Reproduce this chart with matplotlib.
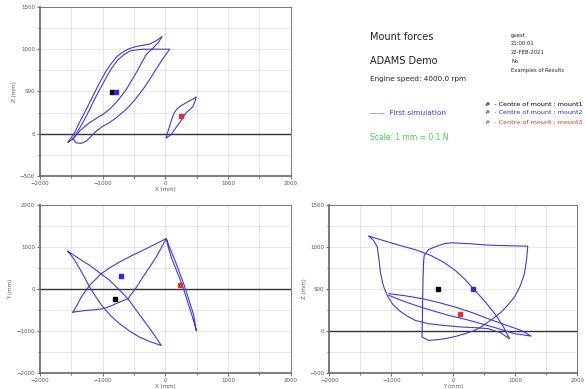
"""Mount forces plot (ADAMS demo style) - three force-trace panels plus a text panel."""
import matplotlib
matplotlib.use("Agg")
import matplotlib.pyplot as plt
from matplotlib.ticker import MultipleLocator

LINE = "#3c3cd2"
MARK = {"mount1": "black", "mount2": "#2a2ae0", "mount3": "#e03030"}

# top-left panel: X vs Z
xz_m1_x = [-1550, -1500, -1445, -1370, -1285, -1190, -1100, -1020, -940, -860, -780, -690, -595, -500, -410, -330, -250, -145, -50,
           -110, -200, -300, -380, -460, -540, -620, -700, -780, -880, -990, -1100, -1205, -1290, -1365, -1420, -1470, -1550]
xz_m1_y = [-100, -50, 10, 130, 250, 390, 525, 640, 745, 830, 905, 960, 1000, 1025, 1040, 1050, 1060, 1100, 1150,
           1080, 1010, 940, 835, 725, 625, 525, 445, 370, 295, 230, 180, 130, 80, 30, -20, -65, -100]
xz_m2_x = [-1470, -1420, -1340, -1260, -1180, -1100, -1000, -890, -760, -620, -490, -355, -250, -145, -40, 70,
           -40, -140, -250, -355, -460, -560, -660, -760, -850, -930, -1010, -1090, -1170, -1250, -1330, -1400, -1470]
xz_m2_y = [-60, -110, -115, -90, -30, 30, 85, 130, 200, 290, 395, 525, 640, 765, 885, 1000,
           1000, 1000, 1000, 1000, 992, 980, 935, 870, 780, 680, 570, 460, 340, 220, 110, 20, -60]
xz_m3_x = [15, 40, 70, 105, 145, 195, 250, 320, 390, 445, 495, 470, 440, 390, 335, 285, 230, 160, 95, 50, 15]
xz_m3_y = [-50, 20, 90, 175, 250, 300, 330, 360, 390, 410, 435, 375, 320, 285, 250, 195, 130, 60, -10, -35, -50]
xz_centres = {"mount1": (-850, 495), "mount2": (-780, 495), "mount3": (255, 210)}

# bottom-left panel: X vs Y
xy_m1_x = [-1551, -1450, -1365, -1280, -1206, -1100, -993, -860, -728, -570, -409, -230, -64,
           -180, -303, -450, -595, -740, -887, -1050, -1206, -1380, -1551]
xy_m1_y = [899, 700, 485, 260, 48, -200, -429, -650, -827, -1000, -1145, -1260, -1344,
           -1080, -827, -530, -231, -10, 207, 390, 565, 730, 899]
xy_m2_x = [-1471, -1400, -1339, -1206, -1020, -880, -728, -540, -356, -170, 16,
           -60, -143, -250, -356, -470, -595, -728, -860, -993, -1130, -1259, -1471]
xy_m2_y = [-549, -370, -191, 87, 366, 510, 644, 790, 922, 1060, 1201,
           990, 763, 520, 286, 20, -231, -310, -400, -469, -495, -509, -549]
xy_m3_x = [16, 80, 150, 225, 300, 375, 450, 494, 460, 420, 345, 270, 190, 110, 55, 16]
xy_m3_y = [1200, 950, 700, 400, 100, -250, -600, -990, -800, -600, -250, 100, 400, 700, 950, 1200]
xy_centres = {"mount1": (-807, -231), "mount2": (-701, 302), "mount3": (228, 87)}

# bottom-right panel: Y vs Z
yz_m1_x = [-1360, -1120, -880, -620, -373, -160, 27, 180, 320, 500, 667, 800, 907,
           760, 560, 350, 133, -130, -400, -613, -750, -880, -980, -1067, -1130, -1173, -1200, -1227, -1290, -1360]
yz_m1_y = [1129, 1075, 1022, 970, 903, 820, 724, 620, 505, 360, 207, 60, -91,
           -20, 28, 40, 48, 65, 87, 127, 180, 247, 320, 425, 540, 684, 850, 1002, 1080, 1129]
yz_m2_x = [-480, -470, -400, -293, -150, -27, 250, 560, 900, 1200, 1180, 1147, 1080, 987, 880, 773, 660, 560, 450, 347,
           187, 30, -133, -280, -400, -507, -500, -496, -490, -480]
yz_m2_y = [823, 900, 970, 1002, 1040, 1050, 1040, 1022, 1015, 1010, 850, 684, 540, 406, 310, 227, 160, 107, 50, 8,
           -32, -65, -91, -105, -111, -72, 100, 366, 600, 823]
yz_m3_x = [-1040, -780, -507, -240, 27, 300, 560, 830, 1093, 1253, 1120, 987, 720, 453, 190, -80, -350, -613, -840, -1040]
yz_m3_y = [445, 420, 386, 340, 286, 220, 147, 75, 8, -60, -45, -32, 30, 87, 140, 187, 245, 306, 365, 425]
yz_centres = {"mount1": (-240, 505), "mount2": (320, 505), "mount3": (107, 199)}

fig = plt.figure(figsize=(5.85, 3.89), dpi=100)


def panel(rect, loops, centres, ylim, ystep, xlabel, ylabel):
    ax = fig.add_axes(rect)
    for xs, ys in loops:
        ax.plot(xs, ys, color=LINE, lw=0.8, zorder=3)
    for name, (cx, cy) in centres.items():
        ax.plot(cx, cy, "s", ms=2.2, color=MARK[name], zorder=4)
    ax.axhline(0, color="#303030", lw=1.0, zorder=2)
    ax.set_xlim(-2000, 2000)
    ax.set_ylim(*ylim)
    ax.xaxis.set_major_locator(MultipleLocator(1000))
    ax.xaxis.set_minor_locator(MultipleLocator(500))
    ax.yaxis.set_major_locator(MultipleLocator(ystep))
    ax.yaxis.set_minor_locator(MultipleLocator(ystep / 2))
    ax.grid(which="both", color="#dcdcdc", lw=0.5, zorder=0)
    ax.tick_params(which="both", labelsize=4, length=2.5, width=0.6, color="#555555",
                   labelcolor="#555555", pad=1)
    ax.tick_params(which="minor", length=1.5)
    for s in ax.spines.values():
        s.set_color("#666666")
        s.set_linewidth(0.6)
    ax.spines["left"].set_linewidth(1.2)
    ax.spines["bottom"].set_linewidth(1.2)
    ax.set_xlabel(xlabel, fontsize=4, color="#555555", labelpad=1)
    ax.set_ylabel(ylabel, fontsize=4, color="#555555", labelpad=2)
    return ax


panel([0.068, 0.548, 0.429, 0.434],
      [(xz_m1_x, xz_m1_y), (xz_m2_x, xz_m2_y), (xz_m3_x, xz_m3_y)],
      xz_centres, (-500, 1500), 500, "X (mm)", "Z (mm)")
panel([0.068, 0.041, 0.429, 0.432],
      [(xy_m1_x, xy_m1_y), (xy_m2_x, xy_m2_y), (xy_m3_x, xy_m3_y)],
      xy_centres, (-2000, 2000), 1000, "X (mm)", "Y (mm)")
panel([0.563, 0.041, 0.424, 0.432],
      [(yz_m1_x, yz_m1_y), (yz_m2_x, yz_m2_y), (yz_m3_x, yz_m3_y)],
      yz_centres, (-500, 1500), 500, "Y (mm)", "Z (mm)")

# text panel (pixel coords -> figure fractions)
W, H = 585, 389


def txt(x, y, s, size, color="#222222"):
    fig.text(x / W, 1 - y / H, s, fontsize=size, color=color, va="center", ha="left")


txt(370, 37, "Mount forces", 7)
txt(370, 61, "ADAMS Demo", 7)
txt(370, 79, "Engine speed: 4000.0 rpm", 5.2)
txt(370, 113, "——  First simulation", 5.3, "#3c3cd2")
txt(370, 137, "Scale: 1 mm = 0.1 N", 5.5, "#40d040")
for i, s in enumerate(["guest", "21:00:01", "22-FEB-2021", "No", "Examples of Results"]):
    txt(511, 35 + i * 8.8, s, 3.8)
for i, (name, c) in enumerate(MARK.items()):
    txt(485, 104 + i * 9, "#  - Centre of mount : " + name, 4.6, c)

fig.savefig("out.png", dpi=100)
